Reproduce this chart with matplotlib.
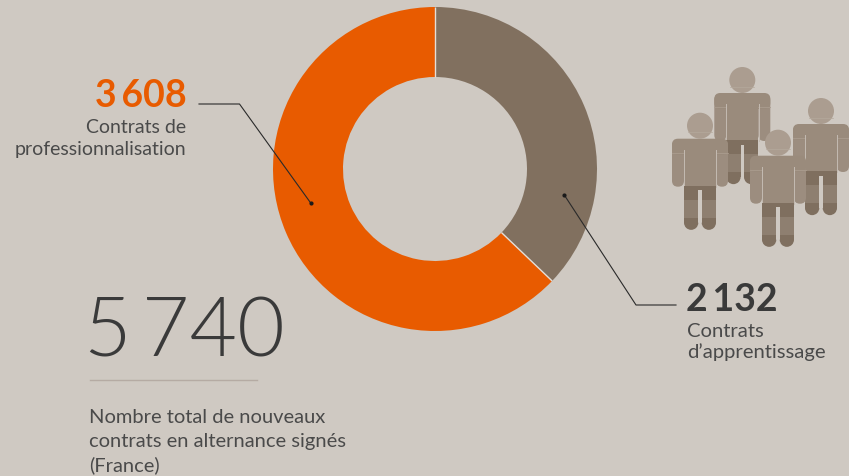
import matplotlib
matplotlib.use("Agg")
import matplotlib.pyplot as plt
import matplotlib.font_manager as fm
import numpy as np
from matplotlib.patches import Circle, FancyBboxPatch, Rectangle, Wedge

plt.rcParams['font.family'] = ['Lato', 'DejaVu Sans']

# contract counts
labels = ["Contrats d\u2019apprentissage", "Contrats de professionnalisation"]
values = [2132, 3608]
total = sum(values)

BG = '#cfc9c2'
ORANGE = '#e85b00'
BROWN = '#81705f'
DARK = '#3a3a3a'
GREY = '#4a4a4a'

# weight lookup picks the hairline cut, so go for the light file directly
light_files = [f for f in fm.findSystemFonts() if f.endswith('Lato-Light.ttf')]
big_font = fm.FontProperties(fname=light_files[0]) if light_files else fm.FontProperties(family='Lato')


def fmt(n):
    s = str(n)
    return s[:-3] + '\u2009' + s[-3:]


def person(ax, cx, cy):
    # little figure, positions relative to the centre of the head
    head = '#ab9d90'
    body = '#9a8b7c'
    arm = '#9c8d7f'
    shorts = '#7f6f5f'
    leg = '#8e7f70'

    for side in (-1, 1):
        x0 = cx + 16 if side == 1 else cx - 28
        ax.add_patch(FancyBboxPatch((x0 + 3, cy + 17), 6, 41,
                                    boxstyle='round,pad=3,rounding_size=6',
                                    fc=arm, ec='none', zorder=cy))
        ax.plot([x0, x0 + 12], [cy + 27, cy + 27], color='#aa9c8e', lw=0.6, zorder=cy + 0.25)
    ax.add_patch(FancyBboxPatch((cx - 23, cy + 18), 46, 6,
                                boxstyle='round,pad=5,rounding_size=6',
                                fc=body, ec='none', zorder=cy + 0.2))
    ax.add_patch(Rectangle((cx - 16, cy + 20), 32, 40, fc=body, ec='none', zorder=cy + 0.2))
    for side in (-1, 1):
        ax.plot([cx + side * 16.3] * 2, [cy + 24, cy + 61], color='#c4bbb2', lw=0.7, zorder=cy + 0.25)

    for side in (-1, 1):
        x0 = cx + 1.7 if side == 1 else cx - 16
        mid = x0 + 7.15
        ax.add_patch(Rectangle((x0, cy + 60), 14.3, 14, fc=shorts, ec='none', zorder=cy + 0.3))
        ax.add_patch(Rectangle((x0, cy + 74), 14.3, 18, fc=leg, ec='none', zorder=cy + 0.3))
        ax.add_patch(Rectangle((x0, cy + 92), 14.3, 5, fc=shorts, ec='none', zorder=cy + 0.3))
        ax.add_patch(Wedge((mid, cy + 97), 7.15, 0, 180, fc=shorts, ec='none', zorder=cy + 0.3))
    ax.add_patch(Rectangle((cx - 1.7, cy + 60), 3.4, 4.5, fc=shorts, ec='none', zorder=cy + 0.35))

    ax.add_patch(Circle((cx, cy), 13, fc=head, ec='none', zorder=cy + 0.4))
    ax.plot([cx - 12, cx + 12], [cy + 6.7, cy + 6.7], color='#b5a99c', lw=0.5, zorder=cy + 0.5)


fig = plt.figure(figsize=(8.49, 4.77), dpi=100, facecolor=BG)

# donut, starts at 12 o'clock and runs clockwise
W, H = 849, 477
cx, cy, r = 435, 170, 162
inner = 92
pie_ax = fig.add_axes([(cx - r) / W, 1 - (cy + r) / H, 2 * r / W, 2 * r / H])
wedges, _ = pie_ax.pie(values, colors=[BROWN, ORANGE], startangle=90, counterclock=False, radius=1,
                       wedgeprops={'width': 1 - inner / r, 'linewidth': 0})
pie_ax.set_xlim(-1, 1)
pie_ax.set_ylim(-1, 1)
# thin separators where the slices meet
for w in wedges:
    t = np.deg2rad(w.theta2)
    pie_ax.plot([inner / r * np.cos(t), np.cos(t)], [inner / r * np.sin(t), np.sin(t)],
                color='#e4dfd9', lw=1.0, solid_capstyle='butt')

# pixel-unit axes above the donut for everything else
over = fig.add_axes([0, 0, 1, 1])
over.set_xlim(0, 849)
over.set_ylim(477, 0)
over.axis('off')
over.patch.set_alpha(0)
over.plot([199, 239.5, 310.7], [105, 105, 204], color='#2a2a2a', lw=0.8)
over.plot([310.7], [204], 'o', color='#1a1a1a', ms=2)
over.plot([564.3, 636, 676], [196, 306, 306], color='#2a2a2a', lw=0.8)
over.plot([564.3], [196], 'o', color='#1a1a1a', ms=2)

# group of figures, back row first
for px, py in [(742.3, 81), (700, 126.7), (821, 112), (778, 143.7)]:
    person(over, px, py)

# left label
over.text(186.5, 107, fmt(values[1]), color=ORANGE, fontsize=27, fontweight='bold', ha='right', va='baseline')
over.text(186, 133, "Contrats de", color=GREY, fontsize=14, ha='right', va='baseline')
over.text(186, 155, "professionnalisation", color=GREY, fontsize=14, ha='right', va='baseline')

# right label
over.text(686, 311, fmt(values[0]), color=DARK, fontsize=27, fontweight='bold', ha='left', va='baseline')
over.text(687, 337, "Contrats", color=GREY, fontsize=14.6, ha='left', va='baseline')
over.text(687, 358, "d\u2019apprentissage", color=GREY, fontsize=14.6, ha='left', va='baseline')

# total
big_font.set_size(59)
over.text(84, 357, fmt(total), color=DARK, fontproperties=big_font, ha='left', va='baseline')
over.plot([90, 257], [380.5, 380.5], color='#b5aba3', lw=1.0)
over.text(89, 423, "Nombre total de nouveaux", color=GREY, fontsize=14.5, ha='left', va='baseline')
over.text(89, 447, "contrats en alternance signés", color=GREY, fontsize=14.5, ha='left', va='baseline')
over.text(89, 471, "(France)", color=GREY, fontsize=14.5, ha='left', va='baseline')

fig.savefig('out.png', dpi=100, facecolor=BG)
